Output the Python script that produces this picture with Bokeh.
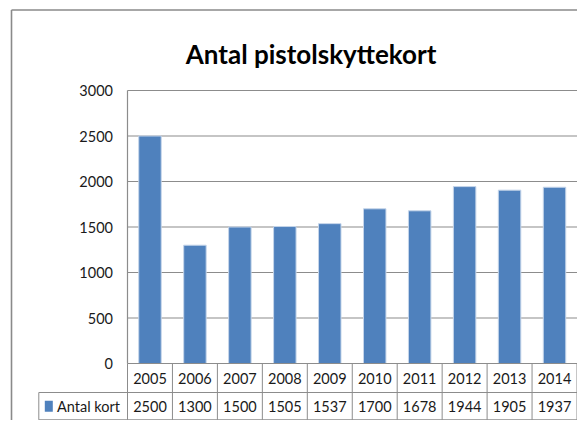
from bokeh.plotting import figure
from bokeh.models import Range1d, ColumnDataSource
from bokeh.core.properties import value
from bokeh.embed import file_html
from bokeh.resources import INLINE

# ---- data ----
years = ["2005", "2006", "2007", "2008", "2009", "2010", "2011", "2012", "2013", "2014"]
antal_kort = [2500, 1300, 1500, 1505, 1537, 1700, 1678, 1944, 1905, 1937]
y_ticks = [0, 500, 1000, 1500, 2000, 2500, 3000]
series_name = "Antal kort"
title_text = "Antal pistolskyttekort"

# ---- layout (pixels in the picture) ----
W, H = 577, 420
PLOT_LEFT = 127.0      # x of category axis start
CAT_W = 44.95          # px per category
Y0_PX = 363.0          # y of value 0
Y_TOP_PX = 90.0        # y of value 3000
UNITS_PER_PX = 3000.0 / (Y0_PX - Y_TOP_PX)


def dx(px):
    return (px - PLOT_LEFT) / CAT_W


def dy(py):
    return (Y0_PX - py) * UNITS_PER_PX


p = figure(width=W, height=H, output_backend="svg", toolbar_location=None,
           x_range=Range1d(dx(0), dx(W)), y_range=Range1d(dy(H), dy(0)),
           x_axis_location=None, y_axis_location=None, min_border=0)
p.outline_line_color = None
p.xgrid.visible = False
p.ygrid.visible = False
p.background_fill_color = "white"
p.border_fill_color = "white"

GRID = "#8c8c8c"
TXT = "#1a1a1a"
FONT = value("Lato")
n = len(years)

# outer chart border (left and top visible; rest cut off)
p.segment(x0=[dx(11), dx(11)], y0=[dy(9.5), dy(9.5)], x1=[dx(11), dx(600)], y1=[dy(440), dy(9.5)],
          line_color="#8a8a8a", line_width=1.6)

# title
p.text(x=[dx(310.6)], y=[dy(53.5)], text=[title_text], text_font=FONT, text_font_style="bold",
       text_font_size="26px", text_align="center", text_baseline="alphabetic", text_color="#000000")

# horizontal gridlines
gl = [t for t in y_ticks if t > 0]
p.segment(x0=[0] * len(gl), y0=gl, x1=[n] * len(gl), y1=gl, line_color=GRID, line_width=1.2)

# bars
src = ColumnDataSource(dict(x=[i + 0.5 for i in range(n)], top=antal_kort))
p.vbar(x="x", top="top", bottom=0, width=0.5, source=src, fill_color="#4F81BD",
       line_color="#c5d5ea", line_width=1)

# y axis line
p.segment(x0=[0], y0=[0], x1=[0], y1=[y_ticks[-1]], line_color=GRID, line_width=1.2)

# y tick labels
p.text(x=[dx(112.5)] * len(y_ticks), y=y_ticks, text=[str(t) for t in y_ticks], text_font=FONT,
       text_font_size="14.5px", text_align="right", text_baseline="middle", text_color=TXT)

# data table
row1_top, row1_bot, row2_bot = dy(363), dy(392), dy(419.3)
tleft = dx(38.3)
# horizontal lines
p.segment(x0=[0, tleft, tleft], y0=[0, row1_bot, row2_bot], x1=[n, n, n], y1=[0, row1_bot, row2_bot],
          line_color=GRID, line_width=1.2)
# vertical lines
vx = list(range(n + 1))
p.segment(x0=vx, y0=[row1_top] * len(vx), x1=vx, y1=[row2_bot] * len(vx), line_color=GRID, line_width=1)
p.segment(x0=[tleft], y0=[row1_bot], x1=[tleft], y1=[row2_bot], line_color=GRID, line_width=1)

# year labels and values
cx = [i + 0.5 for i in range(n)]
p.text(x=cx, y=[(row1_top + row1_bot) / 2] * n, text=years, text_font=FONT, text_font_size="14.5px",
       text_align="center", text_baseline="middle", text_color=TXT)
p.text(x=cx, y=[(row1_bot + row2_bot) / 2] * n, text=[str(v) for v in antal_kort], text_font=FONT,
       text_font_size="14.5px", text_align="center", text_baseline="middle", text_color=TXT)

# legend key + series name
p.rect(x=[dx(48.3)], y=[(row1_bot + row2_bot) / 2], width=8, height=11, width_units="screen",
       height_units="screen", fill_color="#4F81BD", line_color=None)
p.text(x=[dx(56.5)], y=[(row1_bot + row2_bot) / 2], text=[series_name], text_font=FONT,
       text_font_size="14.5px", text_align="left", text_baseline="middle", text_color=TXT)

open("out.html", "w").write(file_html(p, INLINE))
